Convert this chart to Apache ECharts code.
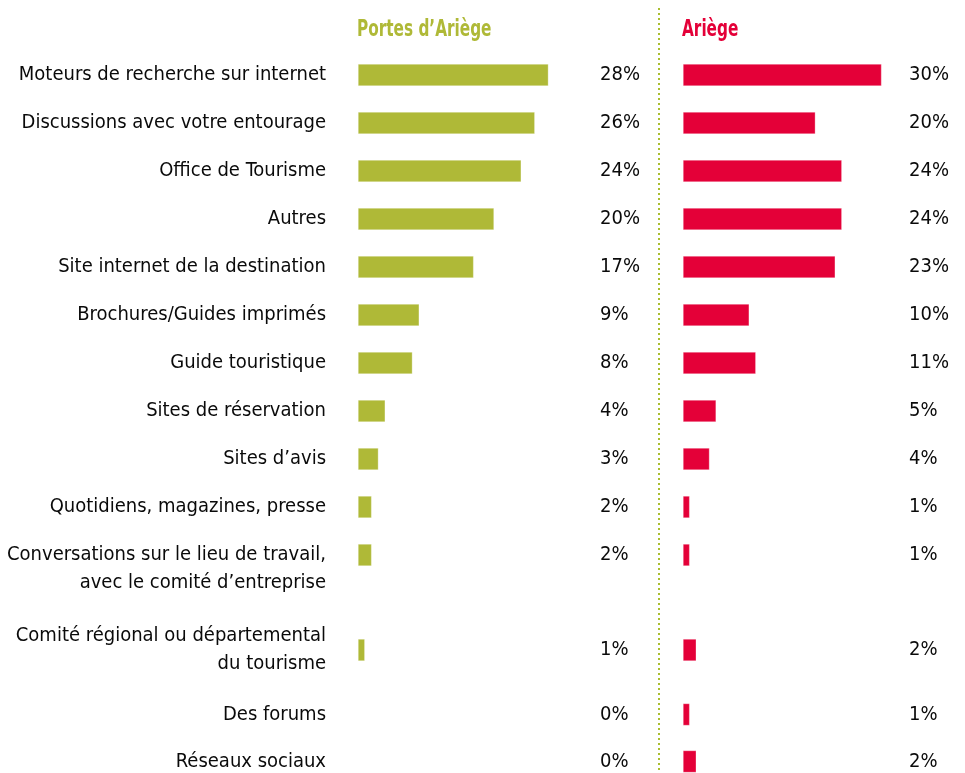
<!DOCTYPE html>
<html>
<head>
<meta charset="utf-8">
<script src="https://cdn.jsdelivr.net/npm/echarts@6/dist/echarts.min.js"></script>
<style>
  html, body { margin: 0; padding: 0; background: #fff; }
  #chart { width: 965px; height: 773px; }
</style>
</head>
<body>
<div id="chart"></div>
<script>
const categories = [
  'Moteurs de recherche sur internet',
  'Discussions avec votre entourage',
  'Office de Tourisme',
  'Autres',
  'Site internet de la destination',
  'Brochures/Guides imprimés',
  'Guide touristique',
  'Sites de réservation',
  'Sites d’avis',
  'Quotidiens, magazines, presse',
  'Conversations sur le lieu de travail,\navec le comité d’entreprise',
  'Comité régional ou départemental\ndu tourisme',
  'Des forums',
  'Réseaux sociaux'
];
const portesValues = [28, 26, 24, 20, 17, 9, 8, 4, 3, 2, 2, 1, 0, 0];
const ariegeValues = [30, 20, 24, 24, 23, 10, 11, 5, 4, 1, 1, 2, 1, 2];
const seriesNames = ['Portes d’Ariège', 'Ariège'];

const GREEN = '#afb937';
const RED = '#e40038';
const FONT = '"DejaVu Sans Condensed", "Liberation Sans Narrow", sans-serif';

// row blocks (the reference spaces the rows unevenly)
const blocks = [
  {start: 0, end: 11, top: 51, rowH: 48},
  {start: 11, end: 12, top: 626, rowH: 48},
  {start: 12, end: 14, top: 691, rowH: 47}
];
// one panel per series
const panels = [
  {values: portesValues, color: GREEN, left: 358, width: 238, max: 35, labels: true, margin: 4},
  {values: ariegeValues, color: RED, left: 683, width: 225, max: 34, labels: false, margin: 1}
];

const grid = [], xAxis = [], yAxis = [], series = [];

panels.forEach((p, pi) => {
  blocks.forEach((b) => {
    const gi = grid.length;
    const cats = categories.slice(b.start, b.end);
    const vals = p.values.slice(b.start, b.end);
    grid.push({
      left: p.left, width: p.width, top: b.top, height: (b.end - b.start) * b.rowH,
      containLabel: false, outerBoundsMode: 'none'
    });
    xAxis.push({
      type: 'value', gridIndex: gi, min: 0, max: p.max, show: false
    });
    yAxis.push({
      type: 'category', gridIndex: gi, data: cats, inverse: true, position: 'left',
      axisLine: {show: false}, axisTick: {show: false}, splitLine: {show: false},
      axisLabel: {
        show: p.labels, interval: 0, hideOverlap: false, margin: 32, fontSize: 20,
        color: '#0a0a0a', fontFamily: FONT, lineHeight: 28, align: 'right',
        // the two-line label of the first block hangs below its bar
        formatter: (v) => (b.start === 0 && v.indexOf('\n') >= 0 ? '\n' + v : v)
      }
    });
    yAxis.push({
      type: 'category', gridIndex: gi, data: vals.map((v) => v + '%'), inverse: true,
      position: 'right',
      axisLine: {show: false}, axisTick: {show: false}, splitLine: {show: false},
      axisLabel: {
        interval: 0, margin: p.margin, fontSize: 20, color: '#0a0a0a',
        fontFamily: FONT, align: 'left'
      }
    });
    series.push({
      name: seriesNames[pi], type: 'bar', xAxisIndex: gi, yAxisIndex: yAxis.length - 2,
      data: vals, barWidth: 22, silent: true,
      itemStyle: {color: p.color, borderColor: 'rgba(255,255,255,0.6)', borderWidth: 0.5}
    });
  });
});

const chart = echarts.init(document.getElementById('chart'));
chart.setOption({
  backgroundColor: '#fff',
  animation: false,
  graphic: [
    {
      type: 'text', left: 357, top: 19, scaleY: 1.3,
      style: {text: seriesNames[0], fill: GREEN, font: 'bold 17px ' + FONT}
    },
    {
      type: 'text', left: 682, top: 19, scaleY: 1.3,
      style: {text: seriesNames[1], fill: RED, font: 'bold 17px ' + FONT}
    },
    {
      type: 'line', shape: {x1: 659, y1: 8, x2: 659, y2: 773},
      style: {stroke: '#a9bd2e', lineWidth: 2, lineDash: [2, 3]}
    }
  ],
  grid, xAxis, yAxis, series
});
</script>
</body>
</html>
